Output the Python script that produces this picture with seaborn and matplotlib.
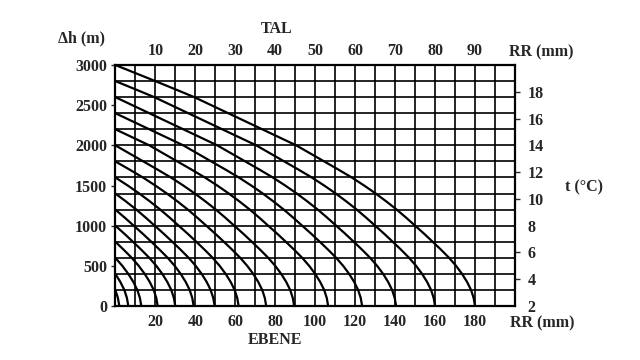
import pandas as pd
import matplotlib
matplotlib.use("Agg")
import matplotlib.pyplot as plt
import seaborn as sns
from matplotlib.ticker import MultipleLocator

profile_dh = [3000, 2900, 2800, 2700, 2600, 2500, 2400, 2300, 2200, 2100, 2000,
              1900, 1800, 1700, 1600, 1500, 1400, 1300, 1200, 1100, 1000,
              900, 800, 700, 600, 500, 400, 300, 200, 100, 0]
profile_rr = [0, 10, 20, 29.8, 39.5, 48, 56.5, 65, 73.5, 82, 90.5,
              97.5, 104.5, 111.5, 118.3, 124.5, 130.3, 135.7, 140.8, 145.5, 150,
              154.5, 158.8, 163, 167, 170.5, 173.5, 176, 178, 179.3, 180]

# every other curve is the same profile, starting lower on the left axis
start_heights = [3000, 2800, 2600, 2400, 2200, 2000, 1800, 1600,
                 1400, 1200, 1000, 800, 600, 400, 200]

ebene_ticks = [20, 40, 60, 80, 100, 120, 140, 160, 180]
tal_ticks = [10, 20, 30, 40, 50, 60, 70, 80, 90]
dh_ticks = [0, 500, 1000, 1500, 2000, 2500, 3000]
t_ticks = [2, 4, 6, 8, 10, 12, 14, 16, 18]

rows = []
for h0 in start_heights:
    i = profile_dh.index(h0)
    shift = profile_rr[i]
    for j in range(i, len(profile_dh)):
        rows.append({"curve": h0, "rr": profile_rr[j] - shift, "dh": profile_dh[j]})
df = pd.DataFrame(rows)

sns.set_theme(style="white")
plt.rcParams['font.family'] = ['Liberation Serif', 'DejaVu Serif']
plt.rcParams['font.weight'] = 'bold'
fs = 11.5

fig = plt.figure(figsize=(6.4, 3.6), dpi=100)
ax = fig.add_axes([0.1802, 0.150, 0.6245, 0.6694])

sns.lineplot(data=df, x="rr", y="dh", units="curve", estimator=None, sort=False,
             color="black", lw=1.6, ax=ax, legend=False)

ax.set_xlim(0, 200)
ax.set_ylim(0, 3000)
ax.set_xlabel("")
ax.set_ylabel("")

# grid: 10 mm columns, 200 m rows
ax.xaxis.set_minor_locator(MultipleLocator(10))
ax.yaxis.set_minor_locator(MultipleLocator(200))
ax.xaxis.remove_overlapping_locs = False
ax.yaxis.remove_overlapping_locs = False
ax.grid(which="minor", color="black", lw=1.2)
ax.grid(which="major", visible=False)

ax.set_xticks(ebene_ticks)
ax.set_xticklabels([str(v) for v in ebene_ticks], fontsize=fs, fontweight="bold")
ax.set_yticks(dh_ticks)
ax.set_yticklabels([str(v) for v in dh_ticks], fontsize=fs, fontweight="bold")
ax.tick_params(axis="x", which="major", length=0, pad=6)
ax.tick_params(axis="y", which="major", direction="out", length=3, width=1, pad=3,
               left=True)
ax.tick_params(which="minor", length=0)
for k, tk in enumerate(ax.yaxis.get_major_ticks()):
    if dh_ticks[k] % 1000 == 0:
        tk.tick1line.set_visible(False)

for s in ax.spines.values():
    s.set_color("black")
    s.set_linewidth(1.6)

# top axis: TAL
axt = ax.twiny()
axt.set_xlim(0, 100)
axt.set_xticks(tal_ticks)
axt.set_xticklabels([str(v) for v in tal_ticks], fontsize=fs, fontweight="bold")
axt.tick_params(axis="x", length=0, pad=4)
axt.grid(False)

# right axis: temperature
axr = ax.twinx()
axr.set_ylim(2, 20)
axr.set_yticks(t_ticks)
axr.set_yticklabels([str(v) for v in t_ticks], fontsize=fs, fontweight="bold")
axr.tick_params(axis="y", direction="out", length=3.5, width=1, pad=5.5, right=True)
axr.grid(False)
for k, tk in enumerate(axr.yaxis.get_major_ticks()):
    if t_ticks[k] in (2, 8, 14):
        tk.tick2line.set_visible(False)
for a in (axt, axr):
    for s in a.spines.values():
        s.set_visible(False)

def ftext(x, y, s):
    fig.text(x / 640, 1 - y / 360, s, ha="center", va="center",
             fontsize=fs, fontweight="bold")

ftext(82, 38, "Δh (m)")
ftext(277, 29, "TAL")
ftext(541, 52, "RR (mm)")
ftext(584, 187, "t (°C)")
ftext(542, 323, "RR (mm)")
ftext(275, 340, "EBENE")

fig.savefig("out.png", dpi=100)
